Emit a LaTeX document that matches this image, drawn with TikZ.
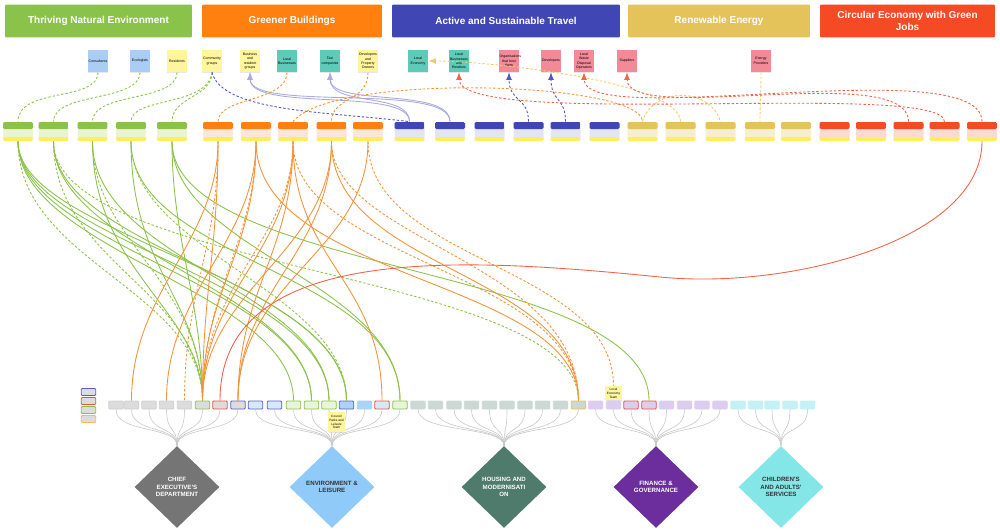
\documentclass[tikz,border=0pt]{standalone}
\usepackage{fontspec}
\setmainfont{Liberation Sans}
\usepackage{tikz}
\usetikzlibrary{shapes.geometric, arrows, shadows}

\definecolor{hGrn}{HTML}{8BC34A}
\definecolor{hOrg}{HTML}{FF7F0F}
\definecolor{hBlu}{HTML}{4046B3}
\definecolor{hGld}{HTML}{E5C35B}
\definecolor{hRed}{HTML}{F44B25}
\definecolor{bGrn}{HTML}{EAF4D2}
\definecolor{bOrg}{HTML}{FDE6D8}
\definecolor{bBlu}{HTML}{E4E5F4}
\definecolor{bGld}{HTML}{F6EFCF}
\definecolor{bRed}{HTML}{FCDAD2}
\definecolor{cFoot}{HTML}{FFEF5E}
\definecolor{sBlu}{HTML}{A9CDF5}
\definecolor{sYel}{HTML}{FFF59D}
\definecolor{sTea}{HTML}{5ECAB8}
\definecolor{sPnk}{HTML}{F28A97}
\definecolor{lnG}{HTML}{8BC34A}
\definecolor{lnO}{HTML}{F5933A}
\definecolor{lnR}{HTML}{F0624A}
\definecolor{lnB}{HTML}{4F57C6}
\definecolor{lnL}{HTML}{A9ABE0}
\definecolor{lnY}{HTML}{F0CC66}
\definecolor{treeC}{HTML}{C9C9C9}
\definecolor{ceF}{HTML}{DCDCDC}
\definecolor{ceL}{HTML}{CFCFCF}
\definecolor{elF}{HTML}{D5E9FB}
\definecolor{elG}{HTML}{E9F4DD}
\definecolor{elD}{HTML}{A9D3F7}
\definecolor{hmF}{HTML}{CBD8D3}
\definecolor{fgF}{HTML}{DCCDF0}
\definecolor{caF}{HTML}{C4F1F3}
\definecolor{bxG}{HTML}{8BC34A}
\definecolor{bxR}{HTML}{F0504A}
\definecolor{bxB}{HTML}{5A5FC8}
\definecolor{bxO}{HTML}{F2BE52}
\definecolor{cedF}{HTML}{757575}
\definecolor{eldF}{HTML}{90CAF9}
\definecolor{hmdF}{HTML}{4F7B6C}
\definecolor{fgdF}{HTML}{6B2E9C}
\definecolor{cadF}{HTML}{84E6E6}

\begin{document}
\begin{tikzpicture}[>=latex, x=0.02cm, y=-0.02cm,
		hdr/.style={rounded corners=0.6pt, minimum height=0.66cm, inner sep=1pt, text=white, align=center,
			font=\fontsize{5.7}{6.6}\selectfont\bfseries},
		stk/.style={minimum width=0.4cm, minimum height=0.44cm, inner sep=0.3pt, text width=0.38cm, align=center,
			font=\fontsize{2}{2.5}\selectfont, drop shadow={opacity=0.18, shadow xshift=0.15pt, shadow yshift=-0.5pt}},
		card/.style 2 args={minimum width=0.6cm, minimum height=0.38cm, inner sep=0pt, fill=#2, rounded corners=0.8pt,
			path picture={
				\fill[#1] (path picture bounding box.north west) rectangle ([yshift=-0.14cm]path picture bounding box.north east);
				\fill[cFoot] ([yshift=0.08cm]path picture bounding box.south west) rectangle (path picture bounding box.south east);}},
		bx/.style={minimum width=0.29cm, minimum height=0.16cm, inner sep=0pt, rounded corners=0.6pt, line width=0.5pt},
		dmd/.style={diamond, minimum width=1.7cm, minimum height=1.64cm, inner sep=0pt, align=center,
			font=\fontsize{3.5}{4.3}\selectfont\bfseries},
		treeln/.style={treeC, line width=0.35pt},
		gs/.style={lnG, line width=0.5pt},
		gd/.style={lnG, line width=0.5pt, dash pattern=on 1.4pt off 1.1pt},
		os/.style={lnO, line width=0.5pt},
		od/.style={lnO, line width=0.5pt, dash pattern=on 1.4pt off 1.1pt},
		rs/.style={lnR, line width=0.5pt},
		rd/.style={lnR, line width=0.5pt, dash pattern=on 1.4pt off 1.1pt},
		bd/.style={lnB, line width=0.5pt, dash pattern=on 1.4pt off 1.1pt},
		lv/.style={lnL, line width=0.5pt},
		yd/.style={lnY, line width=0.5pt, dash pattern=on 1.4pt off 1.1pt}]
		
		\useasboundingbox (0,0) rectangle (1000,531);
		
		% theme headers
		\node[hdr, fill=hGrn, minimum width=3.74cm] (tne) at (98.5,21) {Thriving Natural Environment};
		\node[hdr, fill=hOrg, minimum width=3.6cm] (gbl) at (292,21) {Greener Buildings};
		\node[hdr, fill=hBlu, minimum width=4.56cm] (ast) at (506,21) {Active and Sustainable Travel};
		\node[hdr, fill=hGld, minimum width=3.64cm] (ren) at (719,21) {Renewable Energy};
		\node[hdr, fill=hRed, minimum width=3.5cm] (ceg) at (907.5,21) {Circular Economy with Green\\Jobs};
		
		% stakeholders
		\node[stk, fill=sBlu] (sCons) at (98,61) {Consultants};
		\node[stk, fill=sBlu] (sEcol) at (140,61) {Ecologists};
		\node[stk, fill=sYel] (sResi) at (177,61) {Residents};
		\node[stk, fill=sYel] (sComm) at (212,61) {Community groups};
		\node[stk, fill=sYel] (sBusR) at (250,61) {Business and resident groups};
		\node[stk, fill=sTea] (sLBus) at (287,61) {Local Businesses};
		\node[stk, fill=sTea] (sTaxi) at (330,61) {Taxi companies};
		\node[stk, fill=sYel] (sDevP) at (368,61) {Developers and Property Owners};
		\node[stk, fill=sTea] (sLEco) at (418,61) {Local Economy};
		\node[stk, fill=sTea] (sLBR) at (459,61) {Local Businesses and Retailers};
		\node[stk, fill=sPnk] (sOrgs) at (509,61) {Organisations that host them};
		\node[stk, fill=sPnk] (sDevs) at (551,61) {Developers};
		\node[stk, fill=sPnk] (sWaste) at (584,61) {Local Waste Disposal Operators};
		\node[stk, fill=sPnk] (sSupp) at (627,61) {Suppliers};
		\node[stk, fill=sPnk] (sEnergy) at (761,61) {Energy Providers};
		
		% action cards
		\node[card={hGrn}{bGrn}] (g1) at (18,131.5) {};
		\node[card={hGrn}{bGrn}] (g2) at (53.5,131.5) {};
		\node[card={hGrn}{bGrn}] (g3) at (92.5,131.5) {};
		\node[card={hGrn}{bGrn}] (g4) at (131,131.5) {};
		\node[card={hGrn}{bGrn}] (g5) at (172,131.5) {};
		\node[card={hOrg}{bOrg}] (o1) at (218,131.5) {};
		\node[card={hOrg}{bOrg}] (o2) at (256,131.5) {};
		\node[card={hOrg}{bOrg}] (o3) at (293,131.5) {};
		\node[card={hOrg}{bOrg}] (o4) at (331.5,131.5) {};
		\node[card={hOrg}{bOrg}] (o5) at (368,131.5) {};
		\node[card={hBlu}{bBlu}] (b1) at (409.5,131.5) {};
		\node[card={hBlu}{bBlu}] (b2) at (450,131.5) {};
		\node[card={hBlu}{bBlu}] (b3) at (489.5,131.5) {};
		\node[card={hBlu}{bBlu}] (b4) at (528.5,131.5) {};
		\node[card={hBlu}{bBlu}] (b5) at (565.5,131.5) {};
		\node[card={hBlu}{bBlu}] (b6) at (604.5,131.5) {};
		\node[card={hGld}{bGld}] (y1) at (642.5,131.5) {};
		\node[card={hGld}{bGld}] (y2) at (680.5,131.5) {};
		\node[card={hGld}{bGld}] (y3) at (720.5,131.5) {};
		\node[card={hGld}{bGld}] (y4) at (760,131.5) {};
		\node[card={hGld}{bGld}] (y5) at (796,131.5) {};
		\node[card={hRed}{bRed}] (r1) at (834.5,131.5) {};
		\node[card={hRed}{bRed}] (r2) at (871,131.5) {};
		\node[card={hRed}{bRed}] (r3) at (908.5,131.5) {};
		\node[card={hRed}{bRed}] (r4) at (944.5,131.5) {};
		\node[card={hRed}{bRed}] (r5) at (982,131.5) {};
		
		% legend
		\node[bx, fill=ceF, draw=bxB, minimum height=0.14cm] (lgb) at (88.5,392) {};
		\node[bx, fill=ceF, draw=bxR, minimum height=0.14cm] (lgr) at (88.5,401) {};
		\node[bx, fill=ceF, draw=bxG, minimum height=0.14cm] (lgg) at (88.5,410) {};
		\node[bx, fill=ceF, draw=bxO, minimum height=0.14cm] (lgo) at (88.5,419) {};
		
		% teams
		\foreach \nm/\xx/\fl/\ol in {ce1/116/ceF/ceL, ce2/131.5/ceF/ceL, ce3/149/ceF/ceL, ce4/166.5/ceF/ceL,
			ce5/184.5/ceF/ceL, ce6/202.5/ceF/bxG, ce7/220/ceF/bxR, ce8/238/ceF/bxB,
			el1/255.5/elF/bxB, el2/274.5/elF/bxB, el3/293.5/elG/bxG, el4/311.5/elG/bxG, el5/329/elG/bxG,
			el6/346.5/elD/bxB, el7/364.5/elD/elD, el8/382/elF/bxR, el9/400/elG/bxG,
			hm1/418/hmF/hmF, hm2/435.5/hmF/hmF, hm3/454/hmF/hmF, hm4/471.5/hmF/hmF, hm5/489.5/hmF/hmF,
			hm6/507/hmF/hmF, hm7/525/hmF/hmF, hm8/542.5/hmF/hmF, hm9/560.5/hmF/hmF, hm10/578.5/hmF/bxO,
			fg1/595.5/fgF/fgF, fg2/613.5/fgF/fgF, fg3/631/fgF/bxR, fg4/649/fgF/bxR,
			fg5/666.5/fgF/fgF, fg6/684.5/fgF/fgF, fg7/702/fgF/fgF, fg8/720/fgF/fgF,
			ca1/738/caF/caF, ca2/755.5/caF/caF, ca3/772/caF/caF, ca4/790/caF/caF, ca5/807.5/caF/caF}
		{\node[bx, fill=\fl, draw=\ol] (\nm) at (\xx,405) {};}
		
		\node[stk, fill=sYel, minimum width=0.3cm, minimum height=0.28cm, text width=0.3cm,
		font=\fontsize{1.8}{2.2}\selectfont] (let) at (613.5,393) {Local\\Economy\\Team};
		
		% departments
		\node[dmd, fill=cedF, text=white] (ced) at (177,487) {CHIEF\\EXECUTIVE'S\\DEPARTMENT};
		\node[dmd, fill=eldF, text=black!80] (eld) at (332,487) {ENVIRONMENT \&\\LEISURE};
		\node[dmd, fill=hmdF, text=white] (hmd) at (504,487) {HOUSING AND\\MODERNISATI\\ON};
		\node[dmd, fill=fgdF, text=white] (fgd) at (656,487) {FINANCE \&\\GOVERNANCE};
		\node[dmd, fill=cadF, text=black!80] (cad) at (781,487) {CHILDREN'S\\AND ADULTS'\\SERVICES};
		
		\foreach \i in {1,...,8} \draw[treeln] (ce\i.south) .. controls +(0,24) and +(0,-20) .. (ced.north);
		\foreach \i in {1,...,9} \draw[treeln] (el\i.south) .. controls +(0,24) and +(0,-20) .. (eld.north);
		\foreach \i in {1,...,10} \draw[treeln] (hm\i.south) .. controls +(0,24) and +(0,-20) .. (hmd.north);
		\foreach \i in {1,...,8} \draw[treeln] (fg\i.south) .. controls +(0,24) and +(0,-20) .. (fgd.north);
		\foreach \i in {1,...,5} \draw[treeln] (ca\i.south) .. controls +(0,24) and +(0,-20) .. (cad.north);
		
		\node[stk, fill=sYel, minimum width=0.3cm, minimum height=0.4cm, text width=0.3cm,
		font=\fontsize{1.8}{2.2}\selectfont] (cpl) at (336.5,422) {Council\\Parks and\\Leisure\\Team};
		
		% stakeholder links
		\draw[gd] (sCons.south) .. controls +(0,30) and +(0,-35) .. (g1.north);
		\draw[gd] (sEcol.south) .. controls +(0,30) and +(0,-30) .. (g2.north);
		\draw[gd] (sResi.south) .. controls +(0,30) and +(0,-30) .. (g3.north);
		\draw[gd] (sComm.south) .. controls +(0,25) and +(0,-25) .. (g5.north);
		\draw[gd] (sComm.south) .. controls +(-5,35) and +(0,-25) .. (g4.north);
		\draw[bd] (sComm.south) .. controls +(10,40) and +(-80,-10) .. (b1.north);
		\draw[lv, ->] (b1.north) .. controls +(0,-35) and +(0,40) .. (sBusR.south);
		\draw[lv, ->] (b2.north) .. controls +(0,-40) and +(0,40) .. (sBusR.south);
		\draw[lv, ->] (b1.north) .. controls +(0,-30) and +(0,35) .. (sTaxi.south);
		\draw[lv, ->] (b2.north) .. controls +(0,-35) and +(0,35) .. (sTaxi.south);
		\draw[od] (sLBus.south) .. controls +(0,30) and +(0,-25) .. (o1.north);
		\draw[od] (sDevP.south) .. controls +(0,30) and +(0,-25) .. (o4.north);
		\draw[od] (o3.north) .. controls +(40,-50) and +(0,-40) .. (y1.north);
		\draw[yd, ->] (y2.north) .. controls +(0,-40) and +(60,0) .. (sLEco.east);
		\draw[yd] (sEnergy.south) .. controls +(0,20) and +(0,-20) .. (y4.north);
		\draw[yd] (y1.north) .. controls +(10,-35) and +(-10,-35) .. (y3.north);
		\draw[bd, ->] (b4.north) .. controls +(0,-25) and +(0,30) .. (sOrgs.south);
		\draw[bd, ->] (b5.north) .. controls +(0,-25) and +(0,30) .. (sDevs.south);
		\draw[rd, ->] (r4.north) .. controls +(0,-42) and +(0,58) .. (sLBR.south);
		\draw[rd, ->] (r3.north) .. controls +(0,-62) and +(0,54) .. (sSupp.south);
		\draw[rd, ->] (r5.north) .. controls +(0,-72) and +(0,59) .. (sWaste.south);
		
		% green links
		\draw[gs] (g1.south) .. controls +(0,110) and +(0,-110) .. (el3.north);
		\draw[gs] (g1.south) .. controls +(0,105) and +(0,-115) .. (el4.north);
		\draw[gs] (g1.south) .. controls +(0,100) and +(0,-120) .. (el5.north);
		\draw[gs] (g1.south) .. controls +(0,95) and +(0,-125) .. (el6.north);
		\draw[gs] (g2.south) .. controls +(0,110) and +(0,-120) .. (el6.north);
		\draw[gs] (g2.south) .. controls +(0,110) and +(0,-110) .. (el4.north);
		\draw[gs] (g3.south) .. controls +(0,120) and +(0,-110) .. (el5.north);
		\draw[gs] (g3.south) .. controls +(0,130) and +(0,-90) .. (ce6.north);
		\draw[gs] (g4.south) .. controls +(0,130) and +(0,-100) .. (ce6.north);
		\draw[gs] (g4.south) .. controls +(0,120) and +(0,-130) .. (el9.north);
		\draw[gs] (g5.south) .. controls +(0,134) and +(0,-137) .. (fg4.north);
		\draw[gs] (g5.south) .. controls +(0,110) and +(0,-120) .. (el9.north);
		\draw[gs] (g5.south) .. controls +(0,100) and +(0,-100) .. (ce6.north);
		\draw[gd] (g1.south) .. controls +(0,120) and +(0,-110) .. (ce6.north);
		\draw[gd] (g2.south) .. controls +(0,120) and +(0,-110) .. (ce6.north);
		\draw[gd] (g3.south) .. controls +(0,100) and +(0,-120) .. (ce6.north);
		\draw[gd] (g2.south) .. controls +(0,130) and +(0,-130) .. (hm10.north);
		\draw[gd] (g4.south) .. controls +(0,110) and +(0,-110) .. (el6.north);
		
		% orange links
		\draw[os] (o1.south) .. controls +(0,100) and +(0,-110) .. (ce2.north);
		\draw[os] (o1.south) .. controls +(0,110) and +(0,-110) .. (ce6.north);
		\draw[os] (o2.south) .. controls +(0,100) and +(0,-110) .. (ce4.north);
		\draw[os] (o2.south) .. controls +(0,110) and +(0,-110) .. (ce6.north);
		\draw[os] (o2.south) .. controls +(0,139) and +(0,-121) .. (hm10.north);
		\draw[os] (o3.south) .. controls +(0,110) and +(0,-110) .. (ce6.north);
		\draw[os] (o3.south) .. controls +(0,110) and +(0,-110) .. (ce8.north);
		\draw[os] (o3.south) .. controls +(0,120) and +(0,-120) .. (el8.north);
		\draw[os] (o4.south) .. controls +(0,110) and +(0,-110) .. (ce6.north);
		\draw[os] (o4.south) .. controls +(0,110) and +(0,-110) .. (ce8.north);
		\draw[os] (o4.south) .. controls +(0,130) and +(0,-130) .. (hm10.north);
		\draw[os] (o5.south) .. controls +(0,110) and +(0,-120) .. (ce8.north);
		\draw[od] (o1.south) .. controls +(0,110) and +(0,-110) .. (ce5.north);
		\draw[od] (o2.south) .. controls +(0,100) and +(0,-110) .. (ce6.north);
		\draw[od] (o3.south) .. controls +(0,100) and +(0,-120) .. (ce6.north);
		\draw[od] (o3.south) .. controls +(0,120) and +(0,-130) .. (hm10.north);
		\draw[od] (o4.south) .. controls +(0,100) and +(0,-140) .. (hm10.north);
		\draw[od] (o5.south) .. controls +(0,120) and +(0,-120) .. (let.north);
		
		% circular economy link
		\draw[rs] (r5.south) .. controls (982,240) and (790,290) .. (660,277)
		.. controls (470,258) and (220,240) .. (ce7.north);
		
	\end{tikzpicture}
\end{document}
